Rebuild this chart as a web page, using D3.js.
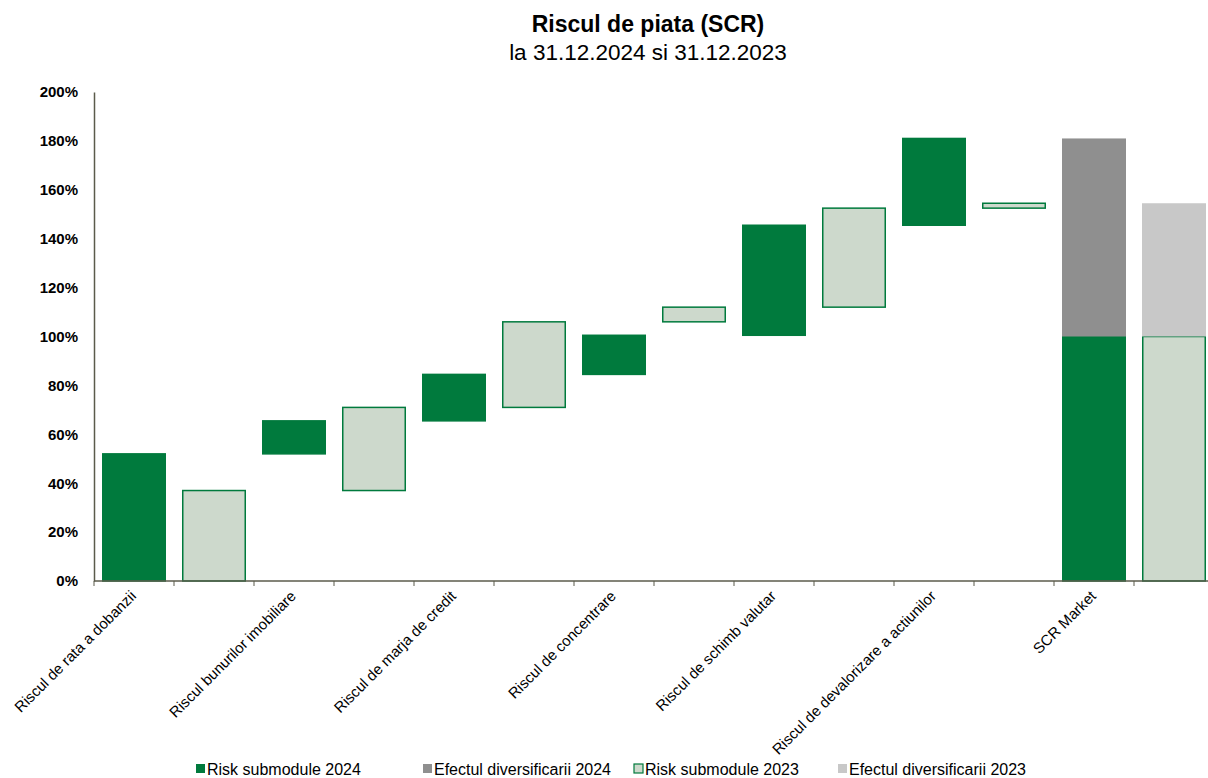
<!DOCTYPE html>
<html>
<head>
<meta charset="utf-8">
<script src="https://cdn.jsdelivr.net/npm/d3@7"></script>
<style>
body{margin:0;background:#fff;font-family:Arial,"Liberation Sans",sans-serif;}
</style>
</head>
<body>
<svg id="chart" width="1208" height="778"></svg>
<script>
// categorii (fiecare are o bara 2024 si una 2023)
var categories = ["Riscul de rata a dobanzii","Riscul bunurilor imobiliare","Riscul de marja de credit",
    "Riscul de concentrare","Riscul de schimb valutar","Riscul de devalorizare a actiunilor","SCR Market"];
var submodule2024 = [52, 13.5, 19, 16, 45, 35.5];
var submodule2023 = [37, 34, 35, 6, 40.5, 2];
var scr2024 = 100, scr2023 = 100;
var diversificare2024 = 81, diversificare2023 = 54.5;
var yTicks = [0,20,40,60,80,100,120,140,160,180,200];
var legendNames = ["Risk submodule 2024","Efectul diversificarii 2024","Risk submodule 2023","Efectul diversificarii 2023"];

var dark = "#007a3d", light = "#cdd9cc", grey = "#8f8f8f", lgrey = "#c8c8c8", axisCol = "#5b5b4b";

var svg = d3.select("#chart");
var mLeft = 94, mRight = 1214, mTop = 92, mBottom = 581;

// construim segmentele cascadei
var bars = [];
var c24 = 0, c23 = 0;
for (var i = 0; i < submodule2024.length; i++) {
    bars.push({slot: 2*i, y0: c24, y1: c24 + submodule2024[i], fill: dark, stroke: dark});
    c24 += submodule2024[i];
    bars.push({slot: 2*i+1, y0: c23, y1: c23 + submodule2023[i], fill: light, stroke: dark});
    c23 += submodule2023[i];
}
var n = submodule2024.length;
bars.push({slot: 2*n, y0: 0, y1: scr2024, fill: dark, stroke: dark});
bars.push({slot: 2*n, y0: scr2024, y1: scr2024 + diversificare2024, fill: grey, stroke: "none"});
bars.push({slot: 2*n+1, y0: 0, y1: scr2023, fill: light, stroke: dark});
bars.push({slot: 2*n+1, y0: scr2023, y1: scr2023 + diversificare2023, fill: lgrey, stroke: "none"});

var slots = d3.range(categories.length * 2);
var x = d3.scaleBand().domain(slots).range([mLeft, mRight]).paddingInner(0.2).paddingOuter(0.1);
var y = d3.scaleLinear().domain([0, 200]).range([mBottom, mTop]);

// titlu
svg.append("text").attr("x", 648).attr("y", 32).attr("text-anchor", "middle")
    .style("font-size", "23px").style("font-weight", "bold").text("Riscul de piata (SCR)");
svg.append("text").attr("x", 648).attr("y", 60).attr("text-anchor", "middle")
    .style("font-size", "22.5px").text("la 31.12.2024 si 31.12.2023");

// bare
svg.selectAll("rect.bar").data(bars).enter().append("rect")
    .attr("class", "bar")
    .attr("x", function(d){ return x(d.slot) + (d.stroke == "none" ? 0 : 0.75); })
    .attr("width", function(d){ return x.bandwidth() - (d.stroke == "none" ? 0 : 1.5); })
    .attr("y", function(d){ return y(d.y1); })
    .attr("height", function(d){ return y(d.y0) - y(d.y1); })
    .attr("fill", function(d){ return d.fill; })
    .attr("stroke", function(d){ return d.stroke; })
    .attr("stroke-width", 1.5);

// axa Y
var yAxis = svg.append("g").attr("transform", "translate(" + mLeft + ",0)")
    .call(d3.axisLeft(y).tickValues(yTicks).tickSize(0).tickPadding(16).tickFormat(function(d){ return d + "%"; }));
yAxis.select(".domain").attr("stroke", axisCol).attr("stroke-width", 1.5);
yAxis.selectAll("text").style("font-size", "15px").style("font-weight", "bold")
    .style("font-family", "Arial,'Liberation Sans',sans-serif").attr("fill", "#000");

// axa X
var step = x.step();
svg.append("line").attr("x1", mLeft).attr("x2", 1208).attr("y1", mBottom).attr("y2", mBottom)
    .attr("stroke", axisCol).attr("stroke-width", 1.5);
svg.selectAll("line.tick").data(d3.range(slots.length)).enter().append("line")
    .attr("class", "tick")
    .attr("x1", function(d){ return mLeft + d*step; }).attr("x2", function(d){ return mLeft + d*step; })
    .attr("y1", mBottom).attr("y2", mBottom + 5)
    .attr("stroke", axisCol);

svg.selectAll("text.cat").data(categories).enter().append("text")
    .attr("class", "cat")
    .attr("transform", function(d, i){
        var cx = x(2*i) + x.bandwidth()/2;
        return "translate(" + (cx + 3) + "," + (mBottom + 16) + ") rotate(-45)";
    })
    .attr("text-anchor", "end")
    .style("font-size", "15px")
    .text(function(d){ return d; });

// legenda
var legendX = [196, 423, 634, 838];
var legendFill = [dark, grey, light, lgrey];
var lg = svg.selectAll("g.leg").data(legendNames).enter().append("g")
    .attr("class", "leg")
    .attr("transform", function(d, i){ return "translate(" + legendX[i] + ",775)"; });
lg.append("rect").attr("x", 0).attr("y", -11).attr("width", 9).attr("height", 9)
    .attr("fill", function(d, i){ return legendFill[i]; })
    .attr("stroke", function(d, i){ return i == 2 ? dark : "none"; })
    .attr("stroke-width", 1.2);
lg.append("text").attr("x", 11).attr("y", 0).style("font-size", "16px").text(function(d){ return d; });
</script>
</body>
</html>
